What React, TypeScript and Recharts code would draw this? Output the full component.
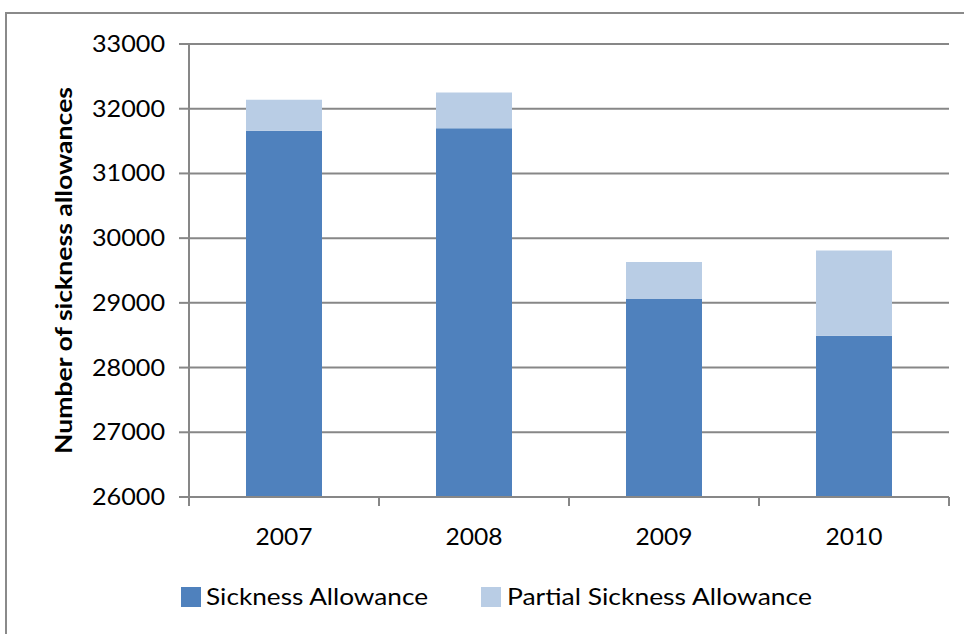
import React from "react";
import { BarChart, Bar, XAxis, YAxis, CartesianGrid, Legend } from "recharts";

const YEARS = ["2007", "2008", "2009", "2010"];
const SICKNESS = [31660, 31700, 29060, 28490];
const PARTIAL = [480, 550, 570, 1320];
const Y_TICKS = [26000, 27000, 28000, 29000, 30000, 31000, 32000, 33000];

const DARK = "#4f81bd";
const LIGHT = "#b9cde5";
const GRID = "#878787";
const FONT = "Lato, 'Open Sans', sans-serif";

const data = YEARS.map((year, i) => ({ year, sickness: SICKNESS[i], partial: PARTIAL[i] }));

const YTick = ({ x, y, payload }: any) => (
  <text x={x} y={y} dy={8} textAnchor="end" fontSize={23} fontFamily={FONT} fill="#000"
    textLength={73} lengthAdjust="spacingAndGlyphs">
    {payload.value}
  </text>
);

const XTick = ({ x, y, payload, index, visibleTicksCount }: any) => {
  const half = 95;
  return (
    <g>
      <line x1={x - half} x2={x - half} y1={y} y2={y + 9} stroke={GRID} strokeWidth={2} />
      {index === visibleTicksCount - 1 && (
        <line x1={x + half} x2={x + half} y1={y} y2={y + 9} stroke={GRID} strokeWidth={2} />
      )}
      <text x={x} y={y + 48} textAnchor="middle" fontSize={23} fontFamily={FONT} fill="#000"
        textLength={57} lengthAdjust="spacingAndGlyphs">
        {payload.value}
      </text>
    </g>
  );
};

// rotated axis title, centred on the plot height
const YLabel = ({ viewBox }: any) => {
  const cx = 72;
  const cy = viewBox.y + viewBox.height / 2;
  return (
    <text x={cx} y={cy} transform={`rotate(-90, ${cx}, ${cy})`} textAnchor="middle" fontSize={22}
      fontWeight={700} fontFamily={FONT} fill="#000" textLength={367} lengthAdjust="spacingAndGlyphs">
      Number of sickness allowances
    </text>
  );
};

const LegendBox = () => (
  <svg width={964} height={40}>
    <rect x={181} y={9} width={20} height={20} fill={DARK} />
    <text x={206} y={27} fontSize={23} fontFamily={FONT} fill="#000" textLength={222} lengthAdjust="spacingAndGlyphs">
      Sickness Allowance
    </text>
    <rect x={481} y={9} width={20} height={20} fill={LIGHT} />
    <text x={507} y={27} fontSize={23} fontFamily={FONT} fill="#000" textLength={305} lengthAdjust="spacingAndGlyphs">
      Partial Sickness Allowance
    </text>
  </svg>
);

export default function App() {
  return (
    <div style={{ position: "absolute", left: 0, top: 0, width: 964, height: 634, overflow: "hidden", background: "#fff" }}>
      <div style={{ position: "absolute", left: 5, top: 12, width: 1000, height: 700, border: "2px solid #8a8a8a" }} />
      <div style={{ position: "absolute", left: 0, top: 0 }}>
        <BarChart width={964} height={634} data={data} barCategoryGap="30%"
          margin={{ top: 44, right: 15, bottom: 47, left: 9 }}>
          <CartesianGrid vertical={false} stroke={GRID} strokeWidth={2} />
          <XAxis dataKey="year" tickLine={false} tickSize={0} tickMargin={0} height={50}
            axisLine={{ stroke: GRID, strokeWidth: 2 }} tick={<XTick />} interval={0} />
          <YAxis type="number" domain={[26000, 33000]} ticks={Y_TICKS} width={180} allowDataOverflow
            tickSize={10} tickMargin={14} axisLine={{ stroke: GRID, strokeWidth: 2 }}
            tickLine={{ stroke: GRID, strokeWidth: 2 }} tick={<YTick />}
            label={<YLabel />} />
          <Legend height={40} content={<LegendBox />} wrapperStyle={{ left: 0, top: 578, width: 964 }} />
          <Bar dataKey="sickness" stackId="a" fill={DARK} isAnimationActive={false} name="Sickness Allowance" />
          <Bar dataKey="partial" stackId="a" fill={LIGHT} isAnimationActive={false} name="Partial Sickness Allowance" />
        </BarChart>
      </div>
    </div>
  );
}
